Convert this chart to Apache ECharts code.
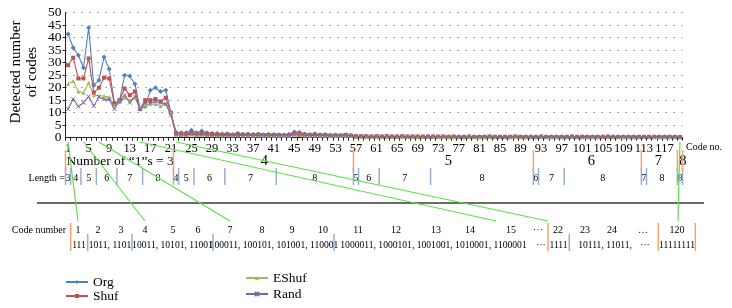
<!DOCTYPE html>
<html><head><meta charset="utf-8">
<script src="https://cdn.jsdelivr.net/npm/echarts@6/dist/echarts.min.js"></script>
<style>html,body{margin:0;padding:0;background:#fff}#c{width:732px;height:308px}</style>
</head><body><div id="c"></div>
<script>
// ---------- DATA ----------
const categories = ['1','2','3','4','5','6','7','8','9','10','11','12','13','14','15','16','17','18','19','20',
'21','22','23','24','25','26','27','28','29','30','31','32','33','34','35','36','37','38','39','40',
'41','42','43','44','45','46','47','48','49','50','51','52','53','54','55','56','57','58','59','60',
'61','62','63','64','65','66','67','68','69','70','71','72','73','74','75','76','77','78','79','80',
'81','82','83','84','85','86','87','88','89','90','91','92','93','94','95','96','97','98','99','100',
'101','102','103','104','105','106','107','108','109','110','111','112','113','114','115','116','117','118','119','120'];

const org = [41.5,36,33,28,44,21,23,32.3,27.5,14,
14.5,25,24.7,21.5,11.5,12.5,19,20,18.5,19,
10,2.2,2,2,3,2,2.7,2,1.8,1.7,
1.5,1.6,1.3,1.8,1.4,1.5,1.3,1.5,1.2,1.4,
1.3,1.2,1.1,1.4,2.3,2.2,1.5,1.3,1.6,1.2,
1.3,1,1.1,1,1.2,1,0.7,0.6,0.6,0.5,
0.6,0.5,0.6,0.5,0.5,0.6,0.5,0.5,0.5,0.4,
0.5,0.5,0.4,0.5,0.4,0.5,0.4,0.4,0.5,0.4,
0.4,0.4,0.5,0.4,0.4,0.4,0.4,0.5,0.4,0.4,
0.4,0.4,0.5,0.4,0.4,0.4,0.4,0.4,0.5,0.4,
0.4,0.4,0.4,0.4,0.4,0.5,0.4,0.4,0.4,0.4,
0.4,0.4,0.4,0.4,0.4,0.4,0.4,0.4,0.4,0.3];

const shuf = [29,32,23.7,23.7,31.7,18,20,24,23.7,13.5,
15,19.7,17,18.5,11.5,15,15,15.5,14.5,16,
10,1.6,1.5,1.5,1.8,1.5,1.7,1.5,1.4,1.3,
1.2,1.3,1.1,1.3,1.2,1.2,1.1,1.2,1,1.1,
1,1,0.9,1.1,1.6,1.5,1.2,1,1.2,1,
1,0.9,0.9,0.8,1,0.8,0.5,0.5,0.5,0.4,
0.5,0.4,0.5,0.4,0.4,0.5,0.4,0.4,0.4,0.4,
0.4,0.4,0.4,0.4,0.3,0.4,0.3,0.3,0.4,0.3,
0.3,0.3,0.4,0.3,0.3,0.3,0.3,0.4,0.3,0.3,
0.3,0.3,0.4,0.3,0.3,0.3,0.3,0.3,0.4,0.3,
0.3,0.3,0.3,0.3,0.3,0.4,0.3,0.3,0.3,0.3,
0.3,0.3,0.3,0.3,0.3,0.3,0.3,0.3,0.3,0.2];

const eshuf = [21.5,22.7,18.5,18,22,17,16.8,16.7,16.3,13,
14.5,16,15,16,12,13,13.5,13.5,12.7,13.5,
10,1.2,1.1,1.1,1.3,1.1,1.2,1.1,1,1,
0.9,1,0.9,1,0.9,0.9,0.8,0.9,0.8,0.8,
0.8,0.8,0.7,0.8,1.2,1.1,0.9,0.8,0.9,0.8,
0.8,0.7,0.7,0.7,0.8,0.7,0.4,0.4,0.4,0.3,
0.4,0.3,0.4,0.3,0.3,0.4,0.3,0.3,0.3,0.3,
0.3,0.3,0.3,0.3,0.2,0.3,0.2,0.2,0.3,0.2,
0.2,0.2,0.3,0.2,0.2,0.2,0.2,0.3,0.2,0.2,
0.2,0.2,0.3,0.2,0.2,0.2,0.2,0.2,0.3,0.2,
0.2,0.2,0.2,0.2,0.2,0.3,0.2,0.2,0.2,0.2,
0.2,0.2,0.2,0.2,0.2,0.2,0.2,0.2,0.2,0.1];

const rand = [11.5,15.5,12.5,14,16.5,12.7,16.3,15.3,15.3,11.5,
14.5,17,14,16.5,11.5,14,14,14.5,14,13.5,
9,1.3,1.2,1.2,1.4,1.2,1.3,1.2,1.1,1.1,
1,1.1,1,1.1,1,1,0.9,1,0.9,0.9,
0.9,0.9,0.8,0.9,1.3,1.2,1,0.9,1,0.9,
0.9,0.8,0.8,0.8,0.9,0.8,0.5,0.5,0.5,0.4,
0.5,0.4,0.5,0.4,0.4,0.5,0.4,0.4,0.4,0.4,
0.4,0.4,0.4,0.4,0.3,0.4,0.3,0.3,0.4,0.3,
0.3,0.3,0.4,0.3,0.3,0.3,0.3,0.4,0.3,0.3,
0.3,0.3,0.4,0.3,0.3,0.3,0.3,0.3,0.4,0.3,
0.3,0.3,0.3,0.3,0.3,0.4,0.3,0.3,0.3,0.3,
0.3,0.3,0.3,0.3,0.3,0.3,0.3,0.3,0.3,0.2];

const seriesNames = ['Org','Shuf','EShuf','Rand'];
const yMin = 0, yMax = 50, yStep = 5;
const yAxisTitle = 'Detected number\nof codes';
const xAxisTitle = 'Code no.';

// code groups by number of "1"s (last code number of each group)
const onesGroupEnds = [21, 56, 91, 112, 119, 120];
const onesGroupLabels = ['Number of \u201c1\u201ds = 3', '4', '5', '6', '7', '8'];
// length segments inside each group (last code number of each segment)
const lengthSegEnds = [[1,3,6,10,15,21],[22,25,31,41,56],[57,61,71,91],[92,97,112],[113,119],[120]];
const lengthSegLabels = [['3','4','5','6','7','8'],['4','5','6','7','8'],['5','6','7','8'],['6','7','8'],['7','8'],['8']];
const lengthTitle = 'Length =';
// codes linked to the table below
const linkCodes = [1, 4, 7, 15, 22, 120];

const tableTitle = 'Code number';
const tableNumbers = ['1','2','3','4','5','6','7','8','9','10','11','12','13','14','15','\u00b7\u00b7\u00b7','22','23','24','\u2026','120'];
const tableCodes = ['111','1011, 1101','10011, 10101, 11001','100011, 100101, 101001, 110001',
  '1000011, 1000101, 1001001, 1010001, 1100001','\u00b7\u00b7\u00b7','1111','10111, 11011,','\u00b7\u00b7\u00b7','11111111'];

// ---------- LAYOUT / STYLE ----------
const FONT = '"Liberation Serif","Times New Roman",serif';
const C = {org:'#4F81BD', shuf:'#C0504D', eshuf:'#9BBB59', rand:'#8064A2',
  orange:'#F5A36E', blue:'#95AFD2', green:'#5EE04A', rule:'#3a3a3a', text:'#000'};
const LAY = {
  groupLabelY: 161, groupLabelDx: [0, 1, 5, 4, -1, 3],
  orangeY: [150, 171], blueY: [168, 185], lengthY: 178, lengthTitleX: 65,
  ruleY: 203, ruleX: [37, 704],
  tableNumY: 230, tableCodeY: 245, tableTitleX: 66,
  tableNumX: [78,98,121,145,173,198,230,262,292,323,358,396,436,470,511,538,558,585,612,643,677],
  tableCodeX: [79,110,172.5,274,433.5,541,558.5,605,645,677],
  tableOrangeX: [70.7,548,658.3,695.3], tableOrangeY: [223,251],
  tableBlueX: [87.7,132,213,334,569.3], tableBlueY: [234,251],
  linkTopY: 142, linkBottomY: 221, linkTargetX: [78,145,230,496,548,678]
};

const chart = echarts.init(document.getElementById('c'), null, {renderer:'canvas'});

function mk(name, data, color, symbol, extra){
  return Object.assign({
    name, type:'line', data, symbol, symbolSize:4, showSymbol:true, showAllSymbol:true,
    lineStyle:{width:1.1, color}, itemStyle:{color},
    emphasis:{disabled:true}, animation:false
  }, extra||{});
}
const crossSym = 'path://M0,0L10,10M10,0L0,10';

const legendCommon = {orient:'vertical', itemWidth:22, itemHeight:5, padding:0, height:40,
  textStyle:{fontFamily:FONT, fontSize:13.5, color:'#000', lineHeight:14}, selectedMode:false};
const yLabel = {margin:4, fontFamily:FONT, fontSize:13.5, color:'#000'};

chart.setOption({
  animation:false,
  textStyle:{fontFamily:FONT},
  grid:{left:65.5, top:12.7, right:49.5, bottom:170.3, containLabel:false},
  xAxis:{type:'category', data:categories, boundaryGap:true,
    axisLine:{lineStyle:{color:'#222', width:1}},
    axisTick:{show:true, interval:0, length:3, lineStyle:{color:'#222'}},
    axisLabel:{interval:3, margin:5, fontFamily:FONT, fontSize:12.5, color:'#000', hideOverlap:false},
    splitLine:{show:false}},
  yAxis:[
    {type:'value', min:yMin, max:yMax, interval:yStep, position:'left',
      axisLine:{show:true, lineStyle:{color:'#222', width:1}},
      axisTick:{show:true, length:3, lineStyle:{color:'#222'}},
      axisLabel:Object.assign({showMinLabel:false, showMaxLabel:false}, yLabel),
      splitLine:{show:true, lineStyle:{color:'#7a7a7a', width:1, type:[1.3,6.7]}}},
    {type:'value', min:yMin, max:yMax, interval:yMax - yMin, position:'left', offset:0,
      axisLine:{show:false}, axisTick:{show:false}, splitLine:{show:false},
      axisLabel:Object.assign({showMinLabel:true, showMaxLabel:true}, yLabel)}
  ],
  legend:[
    Object.assign({data:['Org','Shuf'], left:65, top:275, itemGap:0}, legendCommon),
    Object.assign({data:['EShuf','Rand'], left:245, top:271, itemGap:2}, legendCommon)
  ],
  series:[
    mk('Org', org, C.org, 'diamond', {symbolSize:5}),
    mk('Shuf', shuf, C.shuf, 'rect'),
    mk('EShuf', eshuf, C.eshuf, 'triangle'),
    mk('Rand', rand, C.rand, crossSym, {itemStyle:{color:C.rand, borderColor:C.rand, borderWidth:1}})
  ]
});

function drawAnnotations(){
  const px = c => chart.convertToPixel({xAxisIndex:0}, categories[c-1]);
  const step = px(2) - px(1);
  const last = categories.length;
  const bx = k => k <= 0 ? px(1) - step/2 : (k >= last ? px(last) + step/2 : (px(k) + px(k+1))/2);
  const els = [];
  const text = (t, x, y, size, align, extra) => els.push(Object.assign({type:'text', x, y, silent:true,
    style:{text:t, fill:C.text, font: size + 'px ' + FONT, textAlign:align||'center', align:align||'center',
      textVerticalAlign:'middle', verticalAlign:'middle'}}, extra||{}));
  const line = (x1,y1,x2,y2,color,w,z) => els.push({type:'line', silent:true, z:z||1,
    shape:{x1,y1,x2,y2}, style:{stroke:color, lineWidth:w||1.5}});

  // axis titles
  text(yAxisTitle, 24, 72, 15, 'center', {rotation:Math.PI/2, style:{text:yAxisTitle, fill:C.text,
    font:'15px '+FONT, textAlign:'center', align:'center', textVerticalAlign:'middle', verticalAlign:'middle', lineHeight:16}});
  text(xAxisTitle, 686, 147, 10, 'left');

  // blue length separators
  const seps = [0];
  lengthSegEnds.forEach(g => g.forEach(e => seps.push(e)));
  seps.forEach(k => line(bx(k), LAY.blueY[0], bx(k), LAY.blueY[1], C.blue, 1.5));
  // orange group boundaries
  [0].concat(onesGroupEnds).forEach(k => line(bx(k), LAY.orangeY[0], bx(k), LAY.orangeY[1], C.orange, 1.5, 2));

  // group labels
  let prev = 0;
  onesGroupEnds.forEach((e, i) => {
    if (i === 0) text(onesGroupLabels[i], bx(prev) + 1, LAY.groupLabelY, 13.5, 'left');
    else text(onesGroupLabels[i], (bx(prev) + bx(e))/2 + LAY.groupLabelDx[i], LAY.groupLabelY, 14.5, 'center');
    prev = e;
  });
  // length labels
  prev = 0;
  lengthSegEnds.forEach((g, gi) => g.forEach((e, si) => {
    text(lengthSegLabels[gi][si], (bx(prev) + bx(e))/2, LAY.lengthY, 10, 'center');
    prev = e;
  }));
  text(lengthTitle, LAY.lengthTitleX, LAY.lengthY, 10, 'right');

  // rule
  line(LAY.ruleX[0], LAY.ruleY, LAY.ruleX[1], LAY.ruleY, C.rule, 1.5);

  // table
  text(tableTitle, LAY.tableTitleX, LAY.tableNumY, 10, 'right');
  tableNumbers.forEach((t, i) => text(t, LAY.tableNumX[i], LAY.tableNumY, 10, 'center'));
  tableCodes.forEach((t, i) => text(t, LAY.tableCodeX[i], LAY.tableCodeY, 9.6, 'center'));
  LAY.tableOrangeX.forEach(x => line(x, LAY.tableOrangeY[0], x, LAY.tableOrangeY[1], C.orange, 1.5));
  LAY.tableBlueX.forEach(x => line(x, LAY.tableBlueY[0], x, LAY.tableBlueY[1], C.blue, 1.5));

  // green links
  linkCodes.forEach((c, i) => line(px(c), LAY.linkTopY, LAY.linkTargetX[i], LAY.linkBottomY, C.green, 1.2, 50));

  chart.setOption({graphic:{elements:els}});
}
drawAnnotations();
</script>
</body></html>
